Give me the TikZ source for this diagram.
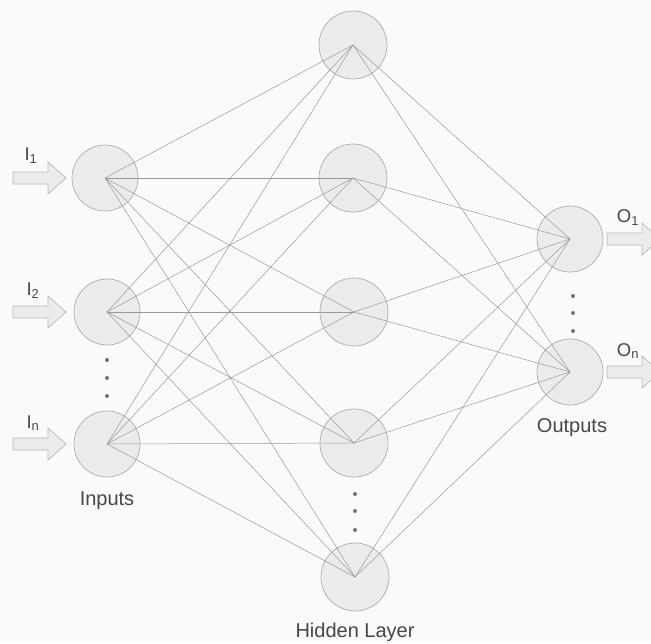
\documentclass[tikz,border=0pt]{standalone}
\usepackage{fontspec}
\setmainfont{Liberation Sans}
\begin{document}
\begin{tikzpicture}[x=1pt,y=-1pt,
  neuron/.style={circle,draw=black!32,fill=black!8,minimum size=66pt,inner sep=0pt,line width=0.7pt},
  link/.style={draw=black!40,line width=0.5pt},
  bigarrow/.style={draw=black!28,fill=black!8,line width=0.7pt},
  lbl/.style={text=black!72,font=\fontsize{20}{24}\selectfont,inner sep=0pt},
  sublbl/.style={text=black!72,font=\fontsize{18.5}{22}\selectfont,inner sep=0pt},
  dotmark/.style={circle,fill=black!55,inner sep=0pt,minimum size=4pt}]
\useasboundingbox (0,0) rectangle (651,643);
\clip (0,0) rectangle (651,643);
\fill[black!2] (0,0) rectangle (651,643);
% input arrows
\foreach \y in {178,312,444}{
  \draw[bigarrow] (13,\y-6) -- (48,\y-6) -- (48,\y-16) -- (66,\y) -- (48,\y+16) -- (48,\y+6) -- (13,\y+6) -- cycle;
}
% output arrows
\foreach \y in {239,372}{
  \draw[bigarrow] (607,\y-6) -- (642,\y-6) -- (642,\y-16) -- (660,\y) -- (642,\y+16) -- (642,\y+6) -- (607,\y+6) -- cycle;
}
% neurons
\node[neuron] (in1) at (105,178) {};
\node[neuron] (in2) at (107,312) {};
\node[neuron] (in3) at (107,444) {};
\node[neuron,minimum size=68pt] (h1) at (353,45) {};
\node[neuron,minimum size=68pt] (h2) at (353,178) {};
\node[neuron,minimum size=68pt] (h3) at (354,312) {};
\node[neuron,minimum size=68pt] (h4) at (354,443) {};
\node[neuron,minimum size=68pt] (h5) at (355,577) {};
\node[neuron] (o1) at (570,239) {};
\node[neuron] (o2) at (570,372) {};
% connections
\foreach \i in {in1,in2,in3}{
  \foreach \h in {h1,h2,h3,h4,h5}{
    \draw[link] (\i.center) -- (\h.center);
  }
}
\foreach \h in {h1,h2,h3,h4,h5}{
  \foreach \o in {o1,o2}{
    \draw[link] (\h.center) -- (\o.center);
  }
}
% dots
\node[dotmark] (di1) at (107,360) {};
\node[dotmark] (di2) at (107,378) {};
\node[dotmark] (di3) at (107,396) {};
\node[dotmark] (dh1) at (355,494) {};
\node[dotmark] (dh2) at (355,511) {};
\node[dotmark] (dh3) at (355,530) {};
\node[dotmark] (do1) at (573,296) {};
\node[dotmark] (do2) at (573,313) {};
\node[dotmark] (do3) at (573,331) {};
% labels
\node[sublbl] (li1) at (31,156) {I\textsubscript{1}};
\node[sublbl] (li2) at (33,291) {I\textsubscript{2}};
\node[sublbl] (li3) at (33,423) {I\textsubscript{n}};
\node[sublbl] (lo1) at (628,218) {O\textsubscript{1}};
\node[sublbl] (lo2) at (628,351) {O\textsubscript{n}};
\node[lbl] (tin) at (107,501) {Inputs};
\node[lbl] (tout) at (572,428) {Outputs};
\node[lbl] (thid) at (355,632) {Hidden Layer};
\end{tikzpicture}
\end{document}
